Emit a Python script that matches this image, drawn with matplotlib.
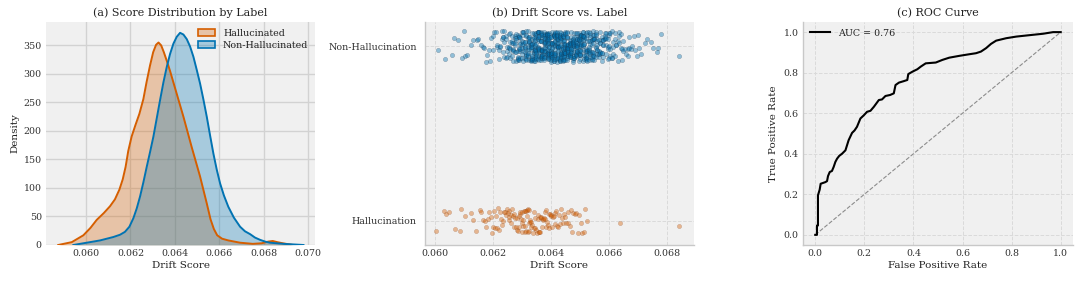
import numpy as np
import matplotlib
matplotlib.use("Agg")
import matplotlib.pyplot as plt
from matplotlib.patches import Patch

# ---------------- data ----------------
# (a) KDE curves: drift score vs density
hal_kde_x = [0.05875, 0.05936, 0.05988, 0.06020, 0.06048, 0.06080, 0.06108, 0.06130,
             0.06150, 0.06165, 0.06178, 0.06190, 0.06205, 0.06222, 0.06240, 0.06258,
             0.06272, 0.06288, 0.06302, 0.06315, 0.06326, 0.06338, 0.06350, 0.06364,
             0.06378, 0.06408, 0.06438, 0.06475, 0.06513, 0.06543, 0.06560, 0.06575,
             0.06590, 0.06612, 0.06640, 0.06693, 0.06750, 0.06790, 0.06820, 0.06840,
             0.06860, 0.06885, 0.06930]
hal_kde_y = [0, 5, 17, 30, 44, 56, 68, 80,
             97, 115, 137, 165, 190, 210, 230, 256,
             285, 315, 338, 351, 355, 350, 338, 322,
             305, 265, 225, 172, 120, 73, 45, 28,
             17, 11, 8, 4, 2, 3, 6, 7,
             5, 3, 0]
non_kde_x = [0.05943, 0.06003, 0.06063, 0.06123, 0.06153, 0.06175, 0.06195, 0.06213,
             0.06228, 0.06243, 0.06258, 0.06273, 0.06288, 0.06303, 0.06318, 0.06333,
             0.06348, 0.06363, 0.06378, 0.06393, 0.06408, 0.06423, 0.06438, 0.06453,
             0.06468, 0.06483, 0.06498, 0.06513, 0.06528, 0.06543, 0.06558, 0.06573,
             0.06588, 0.06603, 0.06620, 0.06640, 0.06665, 0.06693, 0.06715, 0.06738,
             0.06760, 0.06783, 0.06805, 0.06828, 0.06888, 0.06978]
non_kde_y = [0, 4, 8, 14, 18, 23, 32, 47,
             64, 85, 110, 137, 163, 190, 222, 254,
             285, 312, 335, 353, 365, 372, 369, 361,
             348, 330, 307, 283, 255, 225, 192, 160,
             132, 108, 87, 67, 48, 32, 24, 19,
             13, 9, 6, 4, 2, 0]

# (b) strip plot: Hallucination drift scores (x 1e-5)
hal_scores_e5 = [6004, 6031, 6039, 6048, 6069, 6086, 6090, 6105, 6126, 6130, 6141,
                 6156, 6159, 6166, 6173, 6175, 6183, 6188, 6194, 6197,
                 6201, 6205, 6207, 6212, 6214, 6219, 6221, 6226, 6228, 6233, 6236, 6238, 6243, 6245, 6249,
                 6251, 6254, 6256, 6257, 6262, 6264, 6267, 6269, 6272, 6274, 6277, 6279, 6282, 6284,
                 6287, 6289, 6291, 6294, 6295, 6298, 6299,
                 6301, 6302, 6304, 6305, 6307, 6309, 6310, 6312, 6314, 6315, 6317, 6318, 6320, 6321,
                 6323, 6324, 6326, 6328, 6329, 6331, 6333, 6336, 6337, 6340, 6342, 6345, 6346, 6348,
                 6351, 6354, 6355, 6358, 6359, 6362, 6363, 6366, 6367, 6370, 6371, 6374, 6375, 6378,
                 6380, 6382, 6384, 6387, 6389, 6392, 6394, 6398,
                 6400, 6401, 6404, 6406, 6409, 6413, 6415, 6417, 6422, 6424, 6428, 6430, 6434, 6437,
                 6442, 6444, 6450,
                 6452, 6458, 6460, 6466, 6469, 6474, 6477, 6484, 6487, 6494, 6497,
                 6504, 6507, 6515, 6519, 6526,
                 6638, 6842]
# Non-Hallucination: number of points in each 0.00005-wide drift-score bin,
# bins start at 0.06010
non_bin_start = 0.06010
non_bin_width = 0.00005
non_bin_counts = [1, 0, 0, 0, 0, 1, 0, 0, 0, 0,          # 0.06010 - 0.06055
                  1, 1, 0, 0, 1, 0, 0, 1, 1, 1,          # 0.06060 - 0.06105
                  1, 0, 0, 1, 1, 0, 0, 1, 1, 0,          # 0.06110 - 0.06155
                  1, 1, 1, 1, 1, 1, 1, 1, 2, 1,          # 0.06160 - 0.06205
                  1, 2, 2, 2, 2, 3, 3, 3, 3, 4,          # 0.06210 - 0.06255
                  4, 4, 5, 5, 5, 6, 6, 6, 6, 7,          # 0.06260 - 0.06305
                  7, 8, 8, 8, 9, 9, 10, 10, 11, 11,      # 0.06310 - 0.06355
                  11, 12, 12, 12, 12, 13, 13, 12, 13, 13,  # 0.06360 - 0.06405
                  13, 13, 13, 13, 13, 13, 13, 12, 12, 13,  # 0.06410 - 0.06455
                  12, 12, 12, 11, 11, 11, 11, 10, 10, 10,  # 0.06460 - 0.06505
                  9, 9, 9, 8, 8, 8, 7, 7, 7, 6,          # 0.06510 - 0.06555
                  6, 5, 5, 5, 5, 4, 4, 4, 4, 3,          # 0.06560 - 0.06605
                  3, 3, 3, 2, 2, 3, 2, 2, 2, 1,          # 0.06610 - 0.06655
                  1, 2, 2, 1, 1, 1, 1, 1, 1, 1,          # 0.06660 - 0.06705
                  1, 0, 0, 1, 1, 0, 0, 1, 1, 0,          # 0.06710 - 0.06755
                  0, 1, 1, 0, 1, 0, 0, 0, 0, 0,          # 0.06760 - 0.06805
                  0, 0, 0, 0, 0, 0, 1]                   # 0.06810 - 0.06840
strip_labels = ["Non-Hallucination", "Hallucination"]

# (c) ROC curve
roc_fpr = [0, 0.007, 0.007, 0.011, 0.011, 0.018, 0.022, 0.041, 0.048, 0.052, 0.059, 0.068,
           0.075, 0.082, 0.089, 0.098, 0.109, 0.123, 0.136, 0.150, 0.160, 0.170, 0.184,
           0.198, 0.211, 0.225, 0.239, 0.259, 0.272, 0.286, 0.305, 0.320, 0.327, 0.341,
           0.360, 0.375, 0.379, 0.396, 0.416, 0.430, 0.450, 0.491, 0.518, 0.546, 0.587,
           0.628, 0.655, 0.675, 0.696, 0.716, 0.737, 0.778, 0.819, 0.873, 0.928, 0.969, 1.0]
roc_tpr = [0, 0, 0.046, 0.046, 0.195, 0.223, 0.252, 0.260, 0.265, 0.290, 0.310, 0.315,
           0.335, 0.360, 0.376, 0.390, 0.400, 0.417, 0.467, 0.503, 0.515, 0.533, 0.574,
           0.590, 0.607, 0.612, 0.632, 0.665, 0.668, 0.685, 0.690, 0.698, 0.739, 0.751,
           0.758, 0.764, 0.793, 0.805, 0.817, 0.830, 0.846, 0.850, 0.863, 0.874, 0.883,
           0.891, 0.896, 0.904, 0.921, 0.942, 0.958, 0.970, 0.978, 0.985, 0.992, 1.0, 1.0]
auc_value = 0.76

# ---------------- style ----------------
ORANGE = "#d55e00"
BLUE = "#0173b2"
BG = "#f0f0f0"
plt.rcParams["font.family"] = ["DejaVu Serif"]
plt.rcParams["axes.facecolor"] = BG
plt.rcParams["text.color"] = "#222222"
plt.rcParams["axes.labelcolor"] = "#222222"
plt.rcParams["xtick.color"] = "#333333"
plt.rcParams["ytick.color"] = "#333333"

TITLE_FS = 8
LABEL_FS = 7.5
TICK_FS = 6.8
LEG_FS = 6.8

fig = plt.figure(figsize=(10.8, 2.83), dpi=100)
ax_a = fig.add_axes([0.0426, 0.1343, 0.2491, 0.788])
ax_b = fig.add_axes([0.3935, 0.1343, 0.2491, 0.788])
ax_c = fig.add_axes([0.7435, 0.1343, 0.2500, 0.788])

def base(ax, grid_style):
    ax.set_facecolor(BG)
    ax.tick_params(length=0, labelsize=TICK_FS, pad=3)
    for s in ["top", "right"]:
        ax.spines[s].set_visible(False)
    for s in ["left", "bottom"]:
        ax.spines[s].set_color("#c8c8c8")
        ax.spines[s].set_linewidth(1.0)
    ax.set_axisbelow(True)
    if grid_style == "solid":
        ax.grid(True, color="#d2d2d2", linewidth=1.0, linestyle="-")
    else:
        ax.grid(True, color="#dadada", linewidth=0.7, linestyle="--")

# ---- (a) ----
base(ax_a, "solid")
ax_a.spines["left"].set_visible(False)
ax_a.spines["bottom"].set_visible(False)
ax_a.fill_between(hal_kde_x, hal_kde_y, color=ORANGE, alpha=0.3, linewidth=0)
ax_a.plot(hal_kde_x, hal_kde_y, color=ORANGE, lw=1.4, solid_joinstyle="round")
ax_a.fill_between(non_kde_x, non_kde_y, color=BLUE, alpha=0.3, linewidth=0)
ax_a.plot(non_kde_x, non_kde_y, color=BLUE, lw=1.4, solid_joinstyle="round")
ax_a.set_xlim(0.0582, 0.0703)
ax_a.set_ylim(0, 391)
ax_a.set_xticks(np.arange(0.060, 0.0701, 0.002))
ax_a.set_xticklabels([f"{v:.3f}" for v in np.arange(0.060, 0.0701, 0.002)])
ax_a.set_yticks(np.arange(0, 351, 50))
ax_a.set_title("(a) Score Distribution by Label", fontsize=TITLE_FS, pad=4)
ax_a.set_xlabel("Drift Score", fontsize=LABEL_FS, labelpad=2)
ax_a.set_ylabel("Density", fontsize=LABEL_FS, labelpad=3)
handles = [Patch(facecolor=matplotlib.colors.to_rgba(ORANGE, 0.3), edgecolor=ORANGE, linewidth=1.2, label="Hallucinated"),
           Patch(facecolor=matplotlib.colors.to_rgba(BLUE, 0.3), edgecolor=BLUE, linewidth=1.2, label="Non-Hallucinated")]
ax_a.legend(handles=handles, loc="upper right", frameon=False, fontsize=LEG_FS,
            handlelength=1.8, handleheight=0.9, borderaxespad=0.3, labelspacing=0.3)

# ---- (b) ----
base(ax_b, "dashed")
hal_scores = np.array(hal_scores_e5) / 1e5
non_bin_centers = non_bin_start + non_bin_width * np.arange(len(non_bin_counts))
non_scores = np.repeat(non_bin_centers, non_bin_counts)
rng = np.random.default_rng(7)          # vertical jitter only (position, not data)
ax_b.scatter(non_scores, 0 + rng.uniform(-0.088, 0.088, len(non_scores)), s=10,
             color=BLUE, alpha=0.4, edgecolors="#1b2f45", linewidths=0.3, zorder=3)
ax_b.scatter(hal_scores, 1 + rng.uniform(-0.072, 0.072, len(hal_scores)), s=10,
             color=ORANGE, alpha=0.4, edgecolors="#7a4020", linewidths=0.25, zorder=3)
ax_b.set_yticks([0, 1])
ax_b.set_yticklabels(strip_labels)
ax_b.set_ylim(1.14, -0.14)
ax_b.set_xlim(0.05966, 0.06893)
ax_b.set_xticks(np.arange(0.060, 0.0681, 0.002))
ax_b.set_xticklabels([f"{v:.3f}" for v in np.arange(0.060, 0.0681, 0.002)])
ax_b.set_title("(b) Drift Score vs. Label", fontsize=TITLE_FS, pad=4)
ax_b.set_xlabel("Drift Score", fontsize=LABEL_FS, labelpad=2)
ax_b.tick_params(axis="y", labelsize=TICK_FS, pad=6)

# ---- (c) ----
base(ax_c, "dashed")
ax_c.plot([0, 1], [0, 1], linestyle="--", color="#8c8c8c", lw=0.8)
ax_c.plot(roc_fpr, roc_tpr, color="black", lw=1.5, label=f"AUC = {auc_value:.2f}")
ax_c.set_xlim(-0.05, 1.05)
ax_c.set_ylim(-0.05, 1.05)
ax_c.set_xticks(np.arange(0, 1.01, 0.2))
ax_c.set_yticks(np.arange(0, 1.01, 0.2))
ax_c.set_title("(c) ROC Curve", fontsize=TITLE_FS, pad=4)
ax_c.set_xlabel("False Positive Rate", fontsize=LABEL_FS, labelpad=2)
ax_c.set_ylabel("True Positive Rate", fontsize=LABEL_FS, labelpad=4)
ax_c.legend(loc="upper left", frameon=False, fontsize=LEG_FS, handlelength=2.2, borderaxespad=0.3)

fig.savefig("out.png", dpi=100)
